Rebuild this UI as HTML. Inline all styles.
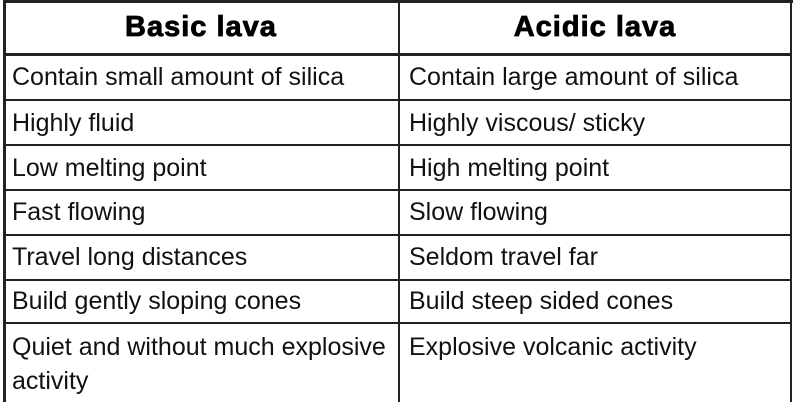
<!DOCTYPE html>
<html><head><meta charset="utf-8"><style>
html,body{margin:0;padding:0;background:#fff;width:796px;height:402px;overflow:hidden}
body{font-family:"Liberation Sans",Arial,sans-serif;color:#111;position:relative}
.l{position:absolute;background:#222}
.t{position:absolute;font-size:25px;white-space:nowrap;line-height:34px}
.h{position:absolute;font-size:29px;font-weight:bold;text-align:center;width:390px;top:10px;line-height:34px;color:#000;letter-spacing:1px;-webkit-text-stroke:0.8px #000}
</style></head><body>
<div>
<div class="l" style="left:3px;top:0;width:790px;height:3px"></div>
<div class="l" style="left:3px;top:0;width:3px;height:402px"></div>
<div class="l" style="left:790px;top:0;width:2px;height:402px"></div>
<div class="l" style="left:398px;top:0;width:2px;height:402px"></div>
<div class="l" style="left:3px;top:53px;width:789px;height:3px"></div>
<div class="l" style="left:3px;top:99px;width:789px;height:2px"></div>
<div class="l" style="left:3px;top:144px;width:789px;height:2px"></div>
<div class="l" style="left:3px;top:189px;width:789px;height:2px"></div>
<div class="l" style="left:3px;top:234px;width:789px;height:2px"></div>
<div class="l" style="left:3px;top:279px;width:789px;height:2px"></div>
<div class="l" style="left:3px;top:322px;width:789px;height:2px"></div>

<div class="h" style="left:6px">Basic lava</div>
<div class="h" style="left:400px">Acidic lava</div>

<div class="t" style="left:12px;top:60px">Contain small amount of silica</div>
<div class="t" style="left:409px;top:60px">Contain large amount of silica</div>
<div class="t" style="left:12px;top:106px">Highly fluid</div>
<div class="t" style="left:409px;top:106px">Highly viscous/ sticky</div>
<div class="t" style="left:12px;top:151px">Low melting point</div>
<div class="t" style="left:409px;top:151px">High melting point</div>
<div class="t" style="left:12px;top:195px">Fast flowing</div>
<div class="t" style="left:409px;top:195px">Slow flowing</div>
<div class="t" style="left:12px;top:240px">Travel long distances</div>
<div class="t" style="left:409px;top:240px">Seldom travel far</div>
<div class="t" style="left:12px;top:284px">Build gently sloping cones</div>
<div class="t" style="left:409px;top:284px">Build steep sided cones</div>
<div class="t" style="left:12px;top:330px">Quiet and without much explosive</div>
<div class="t" style="left:12px;top:364px">activity</div>
<div class="t" style="left:409px;top:330px">Explosive volcanic activity</div>
</div>
</body></html>
